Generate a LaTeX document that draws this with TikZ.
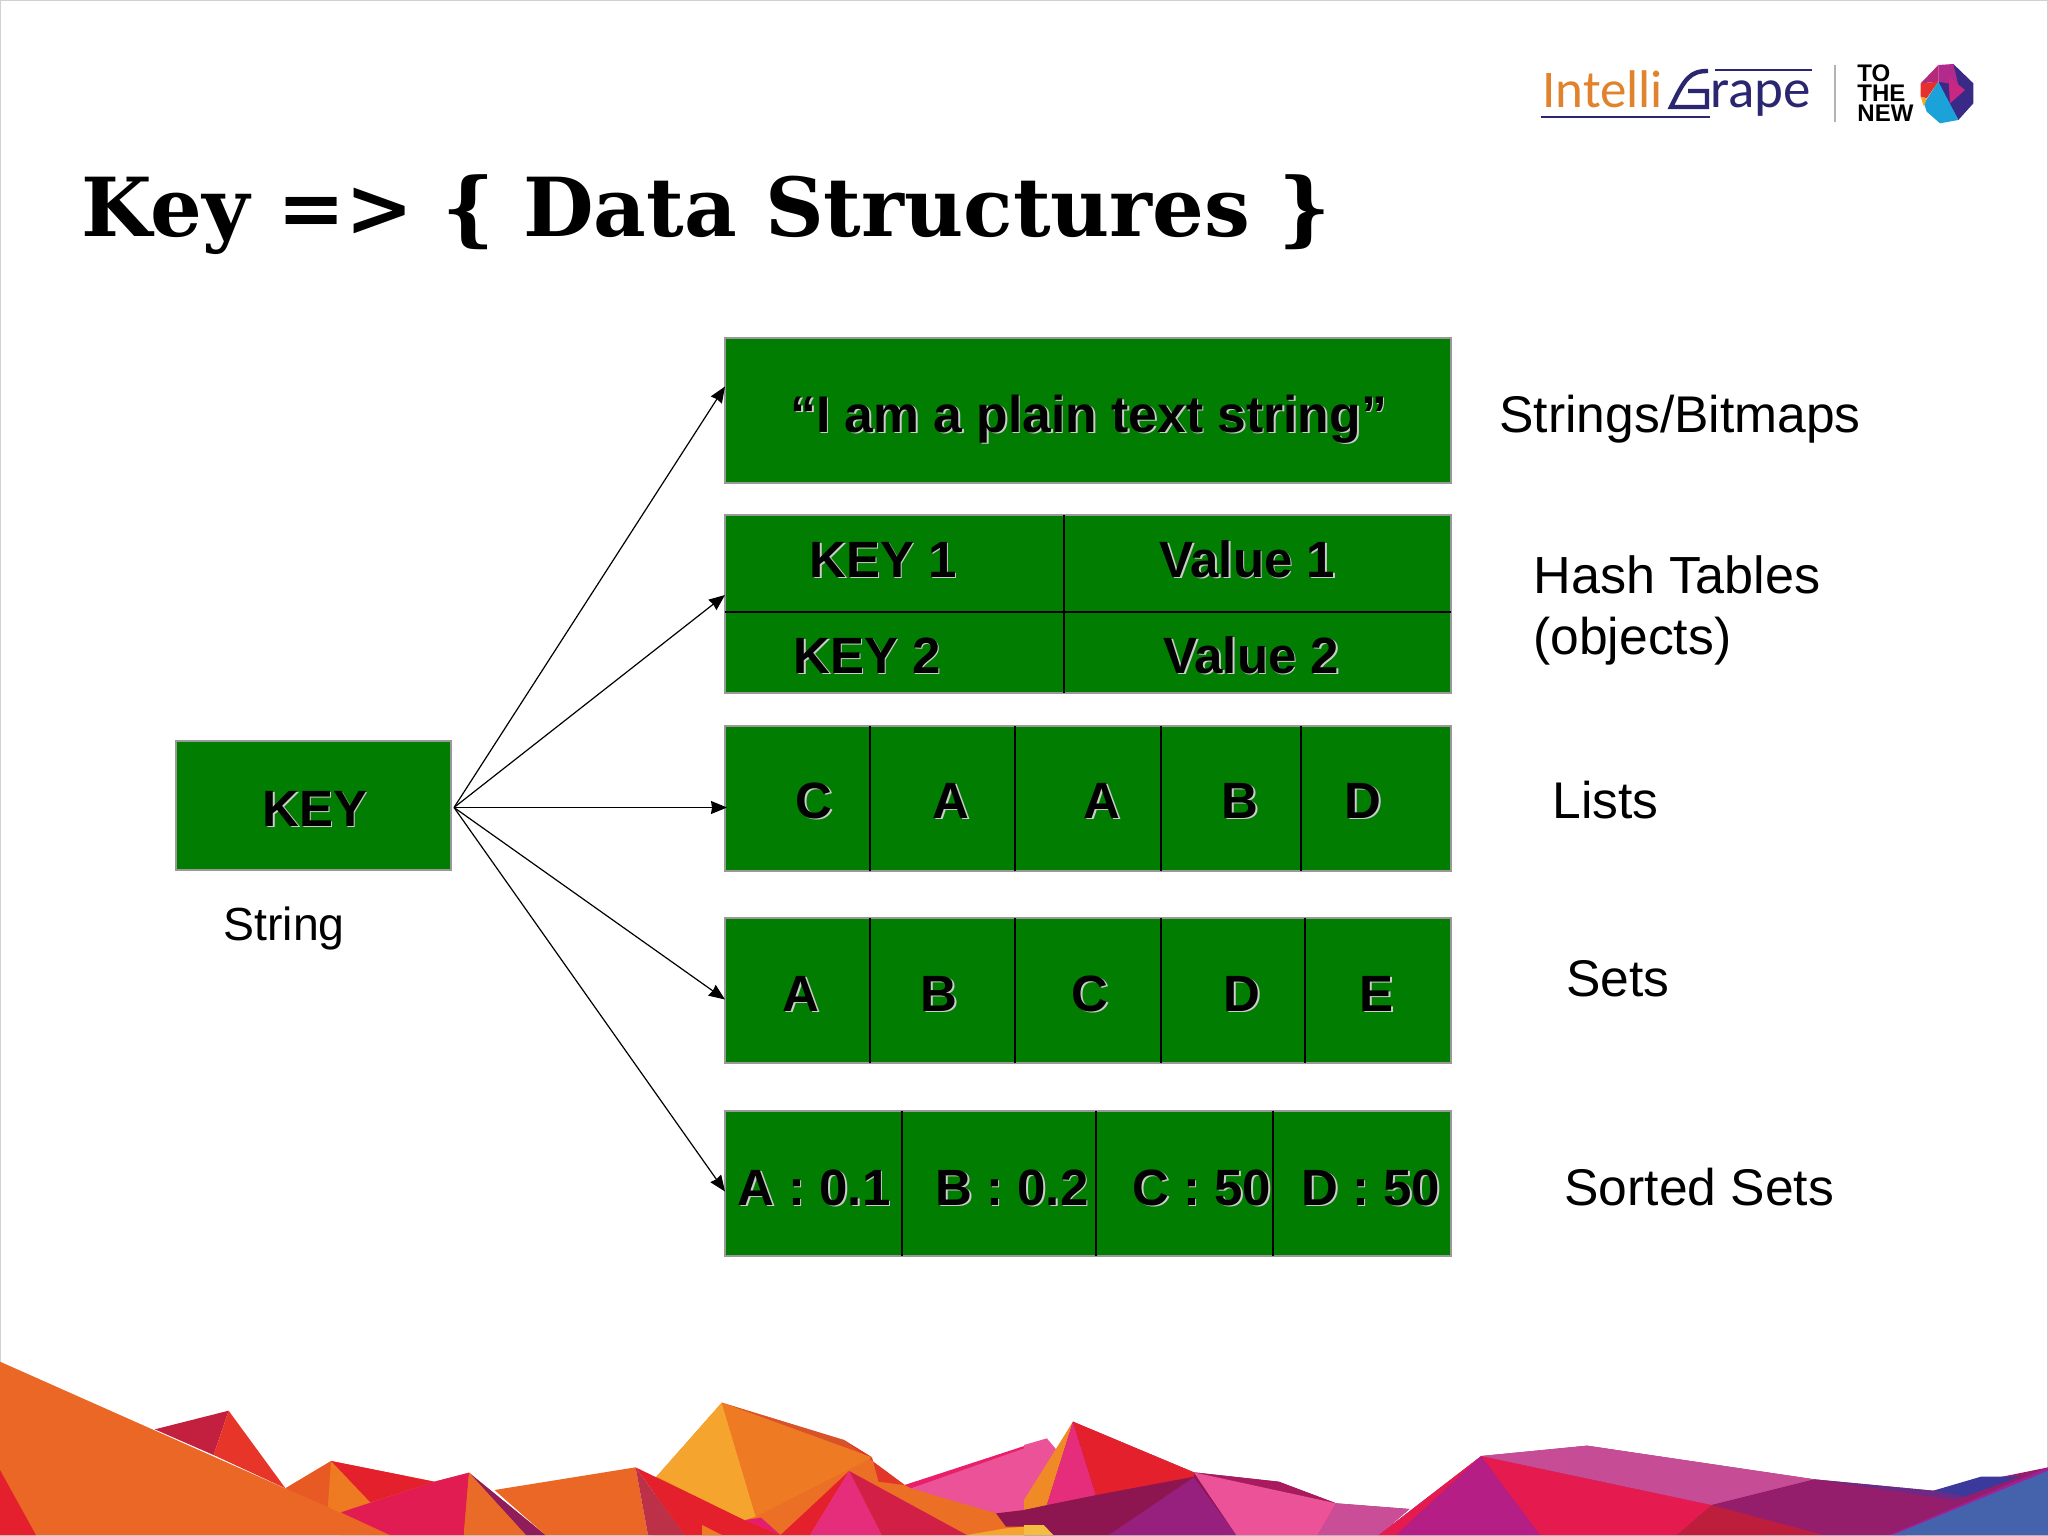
\documentclass[tikz,border=0pt]{standalone}
\usepackage{fontspec}
\newfontfamily\labelfont{Liberation Sans}
\newfontfamily\logofont{Carlito}
\newfontfamily\titlefont{DejaVu Serif}
\usetikzlibrary{arrows.meta}
\definecolor{boxgreen}{HTML}{017D01}
\definecolor{grapeblue}{HTML}{2B2670}
\definecolor{logoorange}{HTML}{E0832C}
\newcommand\shadowed[1]{\leavevmode\rlap{\kern0.8pt\raisebox{-0.8pt}{\textcolor{black!20}{#1}}}#1}
\tikzset{
  databox/.style={draw=black!40,line width=0.6pt,fill=boxgreen,inner sep=0pt,outer sep=0pt,
    anchor=north west,minimum width=363pt},
  cellline/.style={line width=0.7pt},
  celltext/.style={anchor=base west,inner sep=0pt,font=\labelfont\fontsize{25.5}{28}\selectfont\bfseries},
  sidetext/.style={anchor=base west,inner sep=0pt,font=\labelfont\fontsize{25.8}{28}\selectfont},
  fanarrow/.style={line width=0.6pt,-{Stealth[length=8pt,width=6.5pt,inset=0.5pt]}},
  logotext/.style={anchor=base west,inner sep=0pt,font=\logofont\fontsize{26.5}{28}\selectfont},
  newtext/.style={anchor=base west,inner sep=0pt,font=\labelfont\fontsize{12}{12}\selectfont\bfseries},
  leftpeaks/.style={shift={(0,1340)},xscale=0.6532,yscale=0.33333},
  rightpeaks/.style={shift={(1024,1340)},xscale=0.6532,yscale=0.33333},
  gemlogo/.style={shift={(1500,40)},xscale=0.33333,yscale=0.33333},
}
\begin{document}
\begin{tikzpicture}[x=0.5pt,y=-0.5pt]
\useasboundingbox (0,0) rectangle (2048,1535);
\fill[white] (0,0) rectangle (2048,1535);
\draw[black!18,line width=1pt] (0,0) rectangle (2048,1535);
\begin{scope}
\clip (0,0) rectangle (2048,1535);
\begin{scope}[leftpeaks]
\fill[fill={rgb,255:red,194;green,32;blue,62}] (237,268) -- (350,212) -- (327,345) -- cycle;
\fill[fill={rgb,255:red,232;green,53;blue,42}] (350,212) -- (437,445) -- (327,345) -- cycle;
\fill[fill={rgb,255:red,234;green,103;blue,38}] (437,445) -- (507,363) -- (665,425) -- (718,398) -- (835,585) -- (520,585) -- cycle;
\fill[fill={rgb,255:red,235;green,111;blue,37}] (1005,410) -- (1105,188) -- (1292,300) -- (1385,435) -- (1568,330) -- (1568,585) -- (1000,585) -- cycle;
\fill[fill={rgb,255:red,232;green,90;blue,36}] (437,445) -- (507,363) -- (502,500) -- cycle;
\fill[fill={rgb,255:red,238;green,123;blue,34}] (507,363) -- (570,490) -- (520,520) -- (502,500) -- cycle;
\fill[fill={rgb,255:red,227;green,32;blue,43}] (507,363) -- (665,425) -- (567,487) -- cycle;
\fill[fill={rgb,255:red,234;green,103;blue,38}] (0,65) -- (597,585) -- (0,585) -- cycle;
\fill[fill={rgb,255:red,229;green,32;blue,46}] (0,390) -- (55,585) -- (0,585) -- cycle;
\fill[fill={rgb,255:red,225;green,28;blue,82}] (522,517) -- (665,425) -- (718,398) -- (710,585) -- (597,585) -- cycle;
\fill[fill={rgb,255:red,143;green,29;blue,92}] (718,398) -- (835,585) -- (805,585) -- cycle;
\fill[fill={rgb,255:red,234;green,106;blue,39}] (718,398) -- (805,585) -- (710,585) -- cycle;
\fill[fill={rgb,255:red,234;green,103;blue,38}] (757,450) -- (973,382) -- (992,585) -- (835,585) -- cycle;
\fill[fill={rgb,255:red,227;green,32;blue,43}] (973,382) -- (1140,540) -- (1195,585) -- (1048,585) -- cycle;
\fill[fill={rgb,255:red,189;green,49;blue,72}] (973,382) -- (1048,585) -- (992,585) -- cycle;
\fill[fill={rgb,255:red,238;green,123;blue,34}] (1075,555) -- (1105,585) -- (1075,585) -- cycle;
\fill[fill={rgb,255:red,230;green,28;blue,110}] (1140,540) -- (1165,533) -- (1195,585) -- cycle;
\fill[fill={rgb,255:red,217;green,83;blue,42}] (1105,188) -- (1292,300) -- (1335,352) -- cycle;
\fill[fill={rgb,255:red,224;green,55;blue,42}] (1292,300) -- (1385,435) -- (1345,425) -- (1335,352) -- cycle;
\fill[fill={rgb,255:red,245;green,165;blue,46}] (1005,410) -- (1105,188) -- (1157,530) -- (1140,540) -- cycle;
\fill[fill={rgb,255:red,238;green,123;blue,36}] (1105,188) -- (1335,352) -- (1157,530) -- cycle;
\fill[fill={rgb,255:red,227;green,32;blue,43}] (1300,393) -- (1240,585) -- (1195,585) -- cycle;
\fill[fill={rgb,255:red,230;green,45;blue,124}] (1300,393) -- (1350,585) -- (1240,585) -- cycle;
\fill[fill={rgb,255:red,209;green,31;blue,70}] (1300,393) -- (1480,585) -- (1350,585) -- cycle;
\fill[fill={rgb,255:red,232;green,32;blue,106}] (1385,435) -- (1568,318) -- (1568,330) -- (1395,445) -- cycle;
\fill[fill={rgb,255:red,236;green,82;blue,152}] (1395,445) -- (1568,325) -- (1568,510) -- (1525,520) -- cycle;
\fill[fill={rgb,255:red,142;green,22;blue,80}] (1525,520) -- (1568,510) -- (1568,560) -- (1540,560) -- cycle;
\fill[fill={rgb,255:red,245;green,165;blue,46}] (1480,585) -- (1540,565) -- (1568,560) -- (1568,585) -- cycle;
\end{scope}
\begin{scope}[rightpeaks]
\fill[fill={rgb,255:red,142;green,22;blue,80}] (0,480) -- (50,330) -- (75,245) -- (260,397) -- (390,425) -- (478,490) -- (590,507) -- (543,585) -- (0,585) -- cycle;
\fill[fill={rgb,255:red,149;green,30;blue,108}] (700,348) -- (862,317) -- (1210,418) -- (1392,452) -- (1568,382) -- (1568,585) -- (543,585) -- cycle;
\fill[fill={rgb,255:red,236;green,82;blue,152}] (0,315) -- (35,295) -- (50,330) -- (0,480) -- cycle;
\fill[fill={rgb,255:red,240;green,138;blue,38}] (75,245) -- (35,495) -- (0,510) -- (0,480) -- cycle;
\fill[fill={rgb,255:red,230;green,45;blue,124}] (75,245) -- (110,465) -- (35,495) -- cycle;
\fill[fill={rgb,255:red,227;green,32;blue,43}] (75,245) -- (260,397) -- (260,410) -- (110,465) -- cycle;
\fill[fill={rgb,255:red,142;green,22;blue,80}] (0,510) -- (260,412) -- (130,585) -- (0,585) -- cycle;
\fill[fill={rgb,255:red,151;green,32;blue,127}] (260,412) -- (325,585) -- (130,585) -- cycle;
\fill[fill={rgb,255:red,168;green,27;blue,94}] (260,397) -- (390,425) -- (478,490) -- cycle;
\fill[fill={rgb,255:red,236;green,82;blue,152}] (260,397) -- (478,490) -- (450,585) -- (325,585) -- cycle;
\fill[fill={rgb,255:red,201;green,77;blue,151}] (478,490) -- (590,507) -- (545,585) -- (450,585) -- cycle;
\fill[fill={rgb,255:red,245;green,188;blue,66}] (0,555) -- (30,555) -- (45,585) -- (0,585) -- cycle;
\fill[fill={rgb,255:red,229;green,27;blue,80}] (700,348) -- (570,585) -- (543,585) -- cycle;
\fill[fill={rgb,255:red,180;green,30;blue,133}] (700,348) -- (790,585) -- (570,585) -- cycle;
\fill[fill={rgb,255:red,229;green,27;blue,80}] (700,348) -- (1053,495) -- (1000,585) -- (790,585) -- cycle;
\fill[fill={rgb,255:red,199;green,76;blue,150}] (700,348) -- (862,317) -- (1210,418) -- (1053,495) -- cycle;
\fill[fill={rgb,255:red,188;green,30;blue,60}] (1053,495) -- (1225,585) -- (1000,585) -- cycle;
\fill[fill={rgb,255:red,59;green,58;blue,156}] (1392,452) -- (1465,410) -- (1525,410) -- (1440,470) -- cycle;
\fill[fill={rgb,255:red,106;green,42;blue,133}] (1210,418) -- (1392,452) -- (1440,470) -- (1425,480) -- cycle;
\fill[fill={rgb,255:red,149;green,30;blue,108}] (1053,495) -- (1210,418) -- (1425,480) -- (1325,585) -- (1225,585) -- cycle;
\fill[fill={rgb,255:red,160;green,32;blue,154}] (1325,585) -- (1568,382) -- (1568,395) -- (1350,585) -- cycle;
\fill[fill={rgb,255:red,69;green,99;blue,172}] (1330,585) -- (1568,392) -- (1568,585) -- cycle;
\end{scope}
\end{scope}
\node (intelli) [logotext,text=logoorange] at (1542,108) {Intelli};
\node (rape) [logotext,text=grapeblue,font=\logofont\fontsize{27.5}{28}\selectfont] at (1710,108) {rape};
\draw[grapeblue,line width=1.2pt] (1541,117) -- (1710,117) (1715,70) -- (1812,70);
\draw[grapeblue,line width=2.2pt] (1708,71) .. controls (1690,71) and (1685,78) .. (1671,107) -- (1707,107) -- (1707,91) -- (1688,91);
\draw[black!30,line width=0.6pt] (1835,65) -- (1835,122);
\node (tonode) [newtext] at (1857,82) {TO};
\node (thenode) [newtext] at (1857,102) {THE};
\node (newnode) [newtext] at (1857,122) {NEW};
\begin{scope}[gemlogo]
\fill[fill={rgb,255:red,58;green,42;blue,136}] (1360,72) -- (1420,130) -- (1420,190) -- (1375,240) -- (1315,130) -- cycle;
\fill[fill={rgb,255:red,178;green,42;blue,140}] (1315,75) -- (1360,72) -- (1375,135) -- (1315,125) -- cycle;
\fill[fill={rgb,255:red,200;green,40;blue,130}] (1345,110) -- (1395,150) -- (1350,190) -- cycle;
\fill[fill={rgb,255:red,27;green,163;blue,217}] (1315,125) -- (1375,240) -- (1320,250) -- (1280,215) -- (1272,190) -- cycle;
\fill[fill={rgb,255:red,229;green,48;blue,46}] (1262,130) -- (1315,125) -- (1280,175) -- (1262,170) -- cycle;
\fill[fill={rgb,255:red,178;green,42;blue,120}] (1262,130) -- (1315,75) -- (1315,125) -- cycle;
\fill[fill={rgb,255:red,245;green,165;blue,46}] (1262,170) -- (1280,175) -- (1272,200) -- cycle;
\end{scope}
\node (title) [anchor=base west,inner sep=0pt,font=\titlefont\fontsize{40.7}{44}\selectfont\bfseries] at (81,237) {Key => \{ Data Structures \}};
\node (strbox) [databox,minimum height=72.5pt] at (725,338) {};
\node (strtext) [celltext,font=\labelfont\fontsize{25.8}{28}\selectfont\bfseries] at (790,432) {\shadowed{“I am a plain text string”}};
\node (hashbox) [databox,minimum height=89pt] at (725,515) {};
\draw[cellline] (725,612) -- (1451,612) (1064,515) -- (1064,693);
\node (keyone) [celltext] at (809,577) {\shadowed{KEY 1}};
\node (valone) [celltext] at (1159,577) {\shadowed{Value 1}};
\node (keytwo) [celltext] at (793,673) {\shadowed{KEY 2}};
\node (valtwo) [celltext] at (1163,673) {\shadowed{Value 2}};
\node (listbox) [databox,minimum height=72.5pt] at (725,726) {};
\foreach \x in {870,1015,1161,1301}
  \draw[cellline] (\x,726) -- (\x,871);
\foreach \x/\lab [count=\i] in {795/C,932/A,1083/A,1221/B,1344/D}
  \node (list\i) [celltext] at (\x,818) {\shadowed{\lab}};
\node (setbox) [databox,minimum height=72.5pt] at (725,918) {};
\foreach \x in {870,1015,1161,1305}
  \draw[cellline] (\x,918) -- (\x,1063);
\foreach \x/\lab [count=\i] in {782/A,920/B,1071/C,1223/D,1359/E}
  \node (set\i) [celltext] at (\x,1011) {\shadowed{\lab}};
\node (sortbox) [databox,minimum height=72.5pt] at (725,1111) {};
\foreach \x in {902,1096,1273}
  \draw[cellline] (\x,1111) -- (\x,1256);
\foreach \x/\lab [count=\i] in {737/A : 0.1,935/B : 0.2,1132/C : 50,1301/D : 50}
  \node (sort\i) [celltext] at (\x,1205) {\shadowed{\lab}};
\node (keybox) [databox,minimum width=137.5pt,minimum height=64.5pt] at (176,741) {};
\node (keytext) [celltext] at (262,826) {\shadowed{KEY}};
\node (stringlab) [sidetext,font=\labelfont\fontsize{23.2}{25}\selectfont] at (223,940) {String};
\node (strlab) [sidetext] at (1499,432) {Strings/Bitmaps};
\node (hashlab) [sidetext,font=\labelfont\fontsize{26.1}{28}\selectfont] at (1533,593) {Hash Tables};
\node (objlab) [sidetext] at (1533,654) {(objects)};
\node (listlab) [sidetext] at (1552,818) {Lists};
\node (setlab) [sidetext] at (1566,996) {Sets};
\node (sortlab) [sidetext] at (1564,1205) {Sorted Sets};
\foreach \boxname/\dy/\dx in {strbox/12/0,hashbox/4.5/0,listbox/-4.5/1,setbox/-4.5/0,sortbox/-4/0}
  \draw[fanarrow] ([xshift=1.5pt,yshift=-1pt]keybox.east) -- ([xshift=\dx pt,yshift=\dy pt]\boxname.west);
\end{tikzpicture}
\end{document}
